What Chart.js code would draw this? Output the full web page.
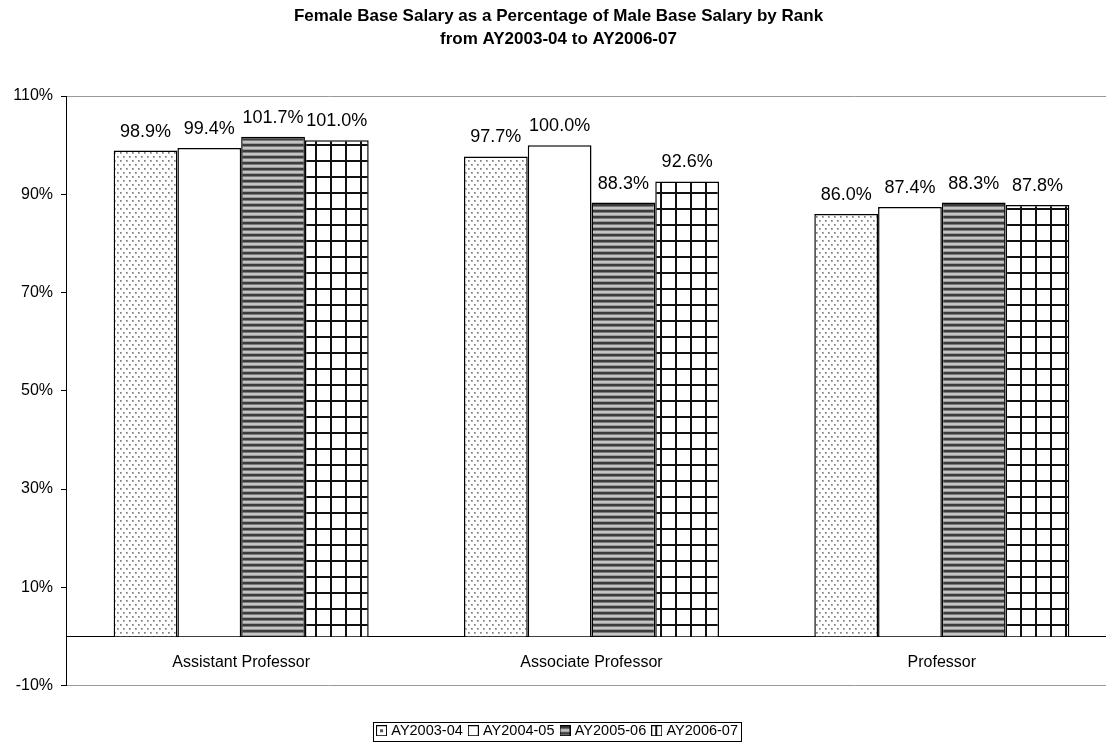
<!DOCTYPE html>
<html><head><meta charset="utf-8">
<script src="https://cdn.jsdelivr.net/npm/chart.js@4/dist/chart.umd.min.js"></script>
<style>html,body{margin:0;padding:0;overflow:hidden;background:#fff;width:1106px;height:742px}canvas{display:block}</style>
</head><body>
<canvas id="c" width="1117" height="742"></canvas>
<script>
const categories = ['Assistant Professor', 'Associate Professor', 'Professor'];
const seriesNames = ['AY2003-04', 'AY2004-05', 'AY2005-06', 'AY2006-07'];
const ay2003_04 = [98.9, 97.7, 86.0];
const ay2004_05 = [99.4, 100.0, 87.4];
const ay2005_06 = [101.7, 88.3, 88.3];
const ay2006_07 = [101.0, 92.6, 87.8];
const yTicks = [-10, 10, 30, 50, 70, 90, 110];
const titleLines = ['Female Base Salary as a Percentage of Male Base Salary by Rank', 'from AY2003-04 to AY2006-07'];

const FONT = "'Liberation Sans', Arial, sans-serif";

function makeCanvas(w, h, draw) {
  const c = document.createElement('canvas');
  c.width = w; c.height = h;
  const g = c.getContext('2d');
  g.fillStyle = '#fff'; g.fillRect(0, 0, w, h);
  draw(g);
  return c;
}
function tile(w, h, draw) {
  return document.getElementById('c').getContext('2d').createPattern(makeCanvas(w, h, draw), 'repeat');
}
const drawDots = g => {
  g.fillStyle = '#b0b0b0'; g.fillRect(0, 0, 2, 2); g.fillRect(3, 4, 2, 2);
  g.fillStyle = '#777'; g.fillRect(0, 0, 1, 1); g.fillRect(3, 4, 1, 1);
};
const stripeCols = ['#3c3c3c', '#3c3c3c', '#7a7a7a', '#c4c4c4', '#c4c4c4', '#9a9a9a'];
const dotPattern = tile(6, 8, drawDots);
const whitePattern = '#ffffff';
const stripePattern = tile(1, 6, g => {
  stripeCols.forEach((c, i) => { g.fillStyle = c; g.fillRect(0, i, 1, 1); });
});
const gridPattern = tile(15, 16, g => {
  g.fillStyle = '#111'; g.fillRect(0, 0, 15, 2); g.fillRect(0, 0, 2, 16);
});

// legend swatches
function swatch(inner) {
  return makeCanvas(11, 11, g => {
    inner(g);
    g.strokeStyle = '#000'; g.lineWidth = 1; g.strokeRect(0.5, 0.5, 10, 10);
  });
}
const swatches = [
  swatch(g => { g.fillStyle = '#555'; g.fillRect(4, 4, 3, 3); }),
  swatch(g => {}),
  swatch(g => { for (let y = 1; y < 10; y++) { g.fillStyle = stripeCols[(y + 5) % 6]; g.fillRect(1, y, 9, 1); } }),
  swatch(g => { g.fillStyle = '#111'; g.fillRect(4, 1, 2, 9); })
];

const seriesData = [ay2003_04, ay2004_05, ay2005_06, ay2006_07];
const fills = [dotPattern, whitePattern, stripePattern, gridPattern];

const valueLabels = {
  id: 'valueLabels',
  afterDatasetsDraw(chart) {
    const ctx = chart.ctx;
    ctx.save();
    ctx.font = '18px ' + FONT;
    ctx.fillStyle = '#000';
    ctx.textAlign = 'center';
    ctx.textBaseline = 'alphabetic';
    chart.data.datasets.forEach((ds, i) => {
      chart.getDatasetMeta(i).data.forEach((el, j) => {
        ctx.fillText(ds.data[j].toFixed(1) + '%', el.x, el.y - 14);
      });
    });
    ctx.restore();
  }
};
const legendBorder = {
  id: 'legendBorder',
  afterDraw(chart) {
    const hb = chart.legend.legendHitBoxes;
    if (!hb || !hb.length) return;
    let l = Infinity, r = -Infinity, t = Infinity, b = -Infinity;
    hb.forEach(h => { l = Math.min(l, h.left); r = Math.max(r, h.left + h.width); t = Math.min(t, h.top); b = Math.max(b, h.top + h.height); });
    const ctx = chart.ctx;
    ctx.save();
    ctx.strokeStyle = '#000'; ctx.lineWidth = 1;
    const x0 = Math.round(l - 6), y0 = Math.round(t - 2), x1 = Math.round(r + 3), y1 = Math.round(b + 3);
    ctx.strokeRect(x0 + 0.5, y0 + 0.5, x1 - x0, y1 - y0);
    ctx.restore();
  }
};

new Chart(document.getElementById('c'), {
  type: 'bar',
  data: {
    labels: categories,
    datasets: seriesNames.map((n, i) => ({
      label: n,
      data: seriesData[i],
      backgroundColor: fills[i],
      borderColor: '#000',
      borderWidth: 1.5,
      categoryPercentage: 0.728,
      barPercentage: 1.0
    }))
  },
  options: {
    responsive: false,
    animation: false,
    devicePixelRatio: 1,
    layout: { padding: { top: 0, left: 0, right: 0, bottom: -6 } },
    plugins: {
      title: {
        display: true,
        text: titleLines,
        color: '#000',
        font: { family: FONT, size: 17, weight: 'bold', lineHeight: '23px' },
        padding: { top: 4.5, bottom: 45.5 }
      },
      legend: {
        position: 'bottom',
        title: { display: true, text: '', font: { size: 10, lineHeight: '10px' }, padding: { top: 20, bottom: 0 } },
        labels: {
          color: '#000',
          font: { family: FONT, size: 14.5 },
          usePointStyle: true,
          pointStyleWidth: 5,
          boxHeight: 11,
          padding: 8,
          generateLabels(chart) {
            return chart.data.datasets.map((ds, i) => ({
              text: ds.label,
              pointStyle: swatches[i],
              fillStyle: '#fff',
              strokeStyle: '#000',
              fontColor: '#000',
              lineWidth: 0,
              hidden: false,
              datasetIndex: i
            }));
          }
        }
      },
      tooltip: { enabled: false }
    },
    scales: {
      x: {
        position: { y: 0 },
        grid: { display: false, drawTicks: false },
        border: { display: true, color: '#000', width: 1 },
        ticks: { color: '#000', font: { family: FONT, size: 16 }, padding: 17, maxRotation: 0 }
      },
      y: {
        min: -10,
        max: 110,
        afterBuildTicks(s) { s.ticks = yTicks.map(v => ({ value: v })); },
        grid: {
          color: c => (c.tick && (c.tick.value === 110 || c.tick.value === -10)) ? '#999' : 'rgba(0,0,0,0)',
          tickColor: '#000',
          tickLength: 5,
          lineWidth: 1
        },
        border: { display: true, color: '#000', width: 1 },
        ticks: { color: '#000', font: { family: FONT, size: 16 }, padding: 8, callback: v => v + '%' },
        afterFit(s) { s.width = 66; }
      }
    }
  },
  plugins: [valueLabels, legendBorder]
});
</script>
</body></html>
